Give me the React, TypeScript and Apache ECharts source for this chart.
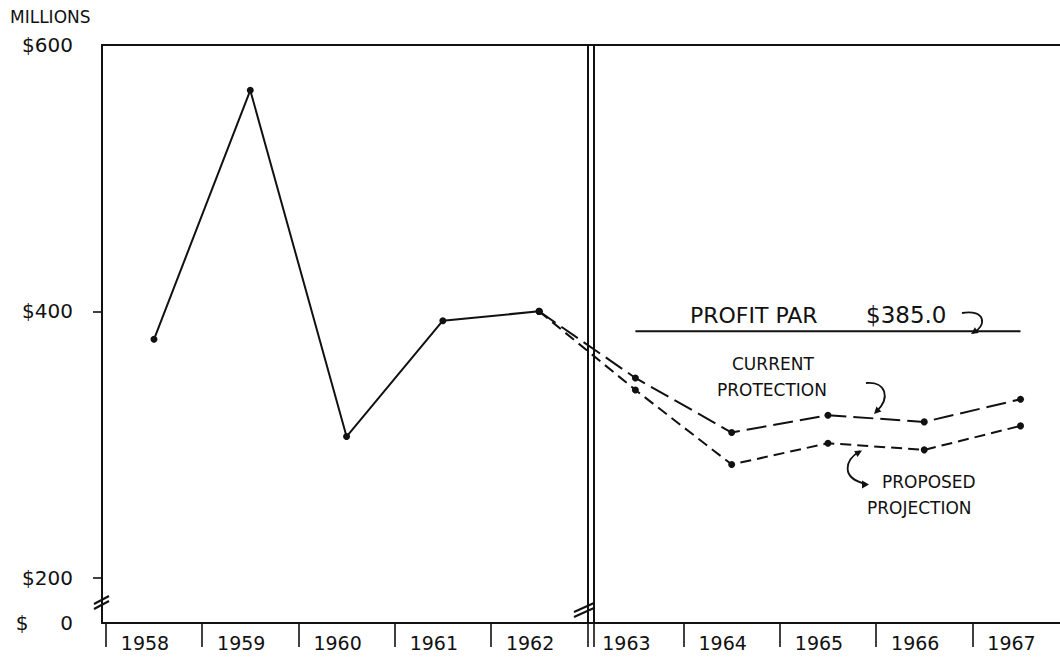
import React, { useEffect, useRef } from "react";
import * as echarts from "echarts";

// ---- data ----
const YEARS_ACTUAL = [1958, 1959, 1960, 1961, 1962];
const ACTUAL = [379, 566, 306, 393, 400];
const YEARS_PROJ = [1962, 1963, 1964, 1965, 1966, 1967];
const CURRENT = [400, 350, 309, 322, 317, 334];
const PROPOSED = [400, 341, 285, 301, 296, 314];
const PAR_YEARS = [1963, 1967];
const PROFIT_PAR = 385;
const YEAR_LABELS = [1958, 1959, 1960, 1961, 1962, 1963, 1964, 1965, 1966, 1967];
const YEAR_BOUNDS = [1957.5, 1958.5, 1959.5, 1960.5, 1961.5, 1962.5, 1963.5, 1964.5, 1965.5, 1966.5];
const Y_LABELS = [200, 400, 600];
const Y_MIN = 166;
const Y_MAX = 600;
const X_MIN = 1957.46;
const X_MAX = 1967.41;
const BREAK_AT = 1962.5;
const BREAK_GAP = 0.065;

const FONT = "DejaVu Sans";
const INK = "#111";

function pairs(xs: number[], ys: number[]) {
  return xs.map((x, i) => [x, ys[i]]);
}

export default function App() {
  const ref = useRef<HTMLDivElement>(null);

  useEffect(() => {
    if (!ref.current) return;
    const chart = echarts.init(ref.current, undefined, { renderer: "svg" });

    const txt = (text: string, x: number, y: number, size: number) => ({
      type: "text",
      x,
      y,
      style: { text, fontFamily: FONT, fontSize: size, fill: INK, textVerticalAlign: "middle" },
    });
    const seg = (x1: number, y1: number, x2: number, y2: number, w = 2) => ({
      type: "line",
      shape: { x1, y1, x2, y2 },
      style: { stroke: INK, lineWidth: w },
    });
    const curve = (
      x1: number, y1: number, cpx1: number, cpy1: number,
      cpx2: number, cpy2: number, x2: number, y2: number
    ) => ({
      type: "bezierCurve",
      shape: { x1, y1, cpx1, cpy1, cpx2, cpy2, x2, y2 },
      style: { stroke: INK, lineWidth: 1.8, fill: "none" },
    });
    const head = (pts: number[][]) => ({
      type: "polygon",
      shape: { points: pts },
      style: { fill: INK },
    });

    const option: any = {
      animation: false,
      backgroundColor: "#fff",
      grid: { left: 102, top: 45, right: 0, bottom: 39 },
      xAxis: [
        {
          type: "value",
          min: X_MIN,
          max: X_MAX,
          position: "bottom",
          splitLine: { show: false },
          axisLine: { show: true, lineStyle: { color: INK, width: 2 } },
          axisTick: {
            show: true,
            customValues: YEAR_BOUNDS.concat([BREAK_AT + BREAK_GAP]),
            length: 24,
            lineStyle: { color: INK, width: 1.6 },
          },
          axisLabel: {
            customValues: YEAR_LABELS,
            formatter: (v: number) => String(Math.round(v)),
            fontFamily: FONT,
            fontSize: 19,
            color: INK,
            margin: 10,
            padding: [0, 18, 0, 0],
          },
        },
        {
          type: "value",
          min: X_MIN,
          max: X_MAX,
          position: "top",
          splitLine: { show: false },
          axisLine: { show: true, onZero: false, lineStyle: { color: INK, width: 2 } },
          axisTick: { show: false },
          axisLabel: { show: false },
        },
      ],
      yAxis: {
        type: "value",
        min: Y_MIN,
        max: Y_MAX,
        splitLine: { show: false },
        axisLine: { show: true, lineStyle: { color: INK, width: 2 } },
        axisTick: {
          show: true,
          customValues: Y_LABELS.slice(0, 2),
          length: 9,
          lineStyle: { color: INK, width: 1.6 },
        },
        axisLabel: {
          customValues: [Y_MIN].concat(Y_LABELS),
          formatter: (v: number) =>
            v <= Y_MIN + 0.5 ? "$\u00a0\u00a0\u00a0\u00a0\u00a00" : "$" + v,
          fontFamily: FONT,
          fontSize: 20,
          color: INK,
          margin: 29,
        },
      },
      series: [
        {
          name: "Actual",
          type: "line",
          data: pairs(YEARS_ACTUAL, ACTUAL),
          symbol: "circle",
          symbolSize: 7,
          itemStyle: { color: INK },
          lineStyle: { color: INK, width: 2 },
          markLine: {
            silent: true,
            symbol: "none",
            label: { show: false },
            lineStyle: { color: INK, width: 2, type: "solid" },
            data: [{ xAxis: BREAK_AT }, { xAxis: BREAK_AT + BREAK_GAP }],
          },
        },
        {
          name: "Current protection",
          type: "line",
          data: pairs(YEARS_PROJ, CURRENT),
          symbol: "circle",
          symbolSize: 7,
          itemStyle: { color: INK },
          lineStyle: { color: INK, width: 2, type: [20, 7] },
        },
        {
          name: "Proposed projection",
          type: "line",
          data: pairs(YEARS_PROJ, PROPOSED),
          symbol: "circle",
          symbolSize: 7,
          itemStyle: { color: INK },
          lineStyle: { color: INK, width: 2, type: [11, 6] },
        },
        {
          name: "Profit par",
          type: "line",
          data: PAR_YEARS.map((y) => [y, PROFIT_PAR]),
          symbol: "none",
          lineStyle: { color: INK, width: 2 },
        },
      ],
      graphic: [
        txt("MILLIONS", 10, 17, 17),
        txt("PROFIT PAR", 690, 315, 22),
        txt("$385.0", 866, 315, 23),
        txt("CURRENT", 732, 364, 17),
        txt("PROTECTION", 717, 390, 17),
        txt("PROPOSED", 882, 482, 17),
        txt("PROJECTION", 867, 508, 17),
        // arrows
        curve(962, 313, 986, 309, 987, 326, 973, 333),
        head([[971, 334], [978.7, 333], [974.9, 327.2]]),
        curve(866, 383, 886, 381, 891, 398, 876, 412),
        head([[874, 414], [881.4, 411.6], [876.4, 406.6]]),
        curve(866, 484, 840, 478, 845, 460, 860, 451),
        head([[862, 450.5], [857.6, 456.9], [854.2, 450.9]]),
        head([[869, 484.5], [862, 480.5], [862, 488.5]]),
        // axis break marks
        seg(94, 604, 109, 596),
        seg(94, 609, 109, 601),
        seg(574, 612, 594, 603),
        seg(574, 617, 594, 608),
      ],
    };

    chart.setOption(option);
    return () => chart.dispose();
  }, []);

  return (
    <div
      ref={ref}
      style={{ position: "fixed", left: 0, top: 0, width: 1060, height: 662, background: "#fff" }}
    />
  );
}
